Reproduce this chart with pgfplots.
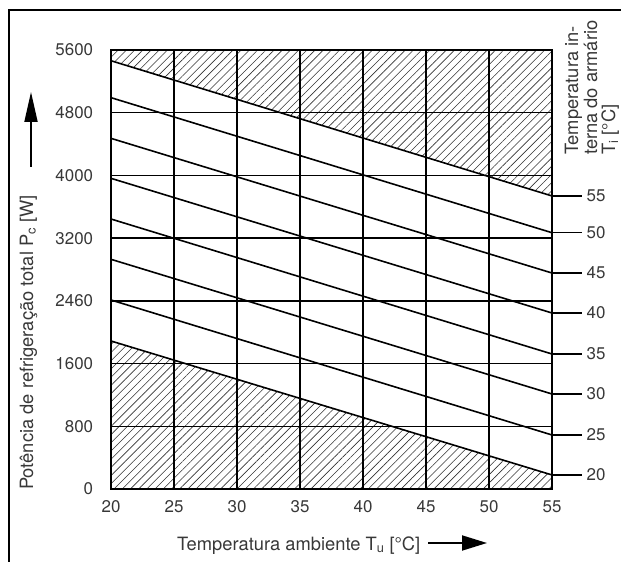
\documentclass[border=0pt]{standalone}
\usepackage{pgfplots}
\pgfplotsset{compat=1.18}
\usetikzlibrary{patterns.meta,arrows.meta}
\usepackage{fontspec}
\setmainfont{TeX Gyre Heros}
\definecolor{txt}{gray}{0.22}
\newcommand{\lbl}{\fontsize{18.4}{22}\selectfont}
\newcommand{\tck}{\fontsize{17}{20}\selectfont}
\begin{document}
\tck
\begin{tikzpicture}
\path[use as bounding box] (0,0) rectangle (621bp,562bp);
\draw[line width=2bp] (8.5bp,0) -- (8.5bp,552bp) -- (621bp,552bp);
\begin{axis}[
  at={(111bp,73bp)}, anchor=south west,
  scale only axis, width=441bp, height=439bp,
  xmin=20, xmax=55, ymin=0, ymax=5600,
  xtick={20,25,...,55}, ytick={0,800,...,5600},
  yticklabels={0,800,1600,2460,3200,4000,4800,5600},
  grid=major, major grid style={black, line width=1.4bp},
  major tick length=0pt,
  axis line style={line width=1.7bp},
  axis on top,
  clip=false,
  /pgf/number format/assume math mode=true,
  tick label style={text=txt, font=\tck},
  xticklabel style={yshift=-6bp},
  yticklabel style={xshift=-12bp},
]
\addplot[draw=none, pattern={Lines[angle=45,distance=5.8bp,line width=0.6bp]}, pattern color=black!80]
  coordinates {(20,5463) (55,3738) (55,5600) (20,5600)} -- cycle;
\addplot[draw=none, pattern={Lines[angle=45,distance=5.8bp,line width=0.6bp]}, pattern color=black!80]
  coordinates {(20,0) (55,0) (55,179) (20,1888)} -- cycle;
\addplot[black, line width=1.6bp] coordinates {(20,5463) (55,3738)};
\addplot[black, line width=1.6bp] coordinates {(20,4992) (55,3269)};
\addplot[black, line width=1.6bp] coordinates {(20,4473) (55,2755)};
\addplot[black, line width=1.6bp] coordinates {(20,3963) (55,2245)};
\addplot[black, line width=1.6bp] coordinates {(20,3444) (55,1722)};
\addplot[black, line width=1.6bp] coordinates {(20,2930) (55,1212)};
\addplot[black, line width=1.6bp] coordinates {(20,2411) (55,689)};
\addplot[black, line width=1.6bp] coordinates {(20,1888) (55,179)};
\coordinate (e55) at (axis cs:55,3738);
\coordinate (e50) at (axis cs:55,3269);
\coordinate (e45) at (axis cs:55,2755);
\coordinate (e40) at (axis cs:55,2245);
\coordinate (e35) at (axis cs:55,1722);
\coordinate (e30) at (axis cs:55,1212);
\coordinate (e25) at (axis cs:55,689);
\coordinate (e20) at (axis cs:55,179);
\end{axis}
\foreach \t in {55,50,45,40,35,30,25,20}{
  \draw[line width=1.4bp] (e\t) -- ++(30bp,0) node[right, inner sep=4bp, text=txt, font=\tck]{\t};
}
% y label and arrow
\node[rotate=90, anchor=base west, inner sep=0pt, text=txt, font=\lbl] at (33bp,72bp) {Potência de refrigeração total P\textsubscript{c} [W]};
\draw[line width=1.8bp, -{Triangle[length=30bp,width=13bp]}] (31bp,395bp) -- (31bp,470bp);
% x label and arrow
\node[anchor=base west, inner sep=0pt, text=txt, font=\lbl] at (177bp,12bp) {Temperatura ambiente T\textsubscript{u} [°C]};
\draw[line width=1.8bp, -{Triangle[length=25bp,width=15bp]}] (428bp,19bp) -- (487bp,19bp);
% right title
\node[rotate=90, anchor=base west, inner sep=0pt, text=txt, font=\lbl] at (578bp,407bp) {Temperatura in-};
\node[rotate=90, anchor=base west, inner sep=0pt, text=txt, font=\lbl] at (597bp,407bp) {terna do armário};
\node[rotate=90, anchor=base west, inner sep=0pt, text=txt, font=\lbl] at (615bp,407bp) {T\textsubscript{i} [°C]};
\end{tikzpicture}
\end{document}
